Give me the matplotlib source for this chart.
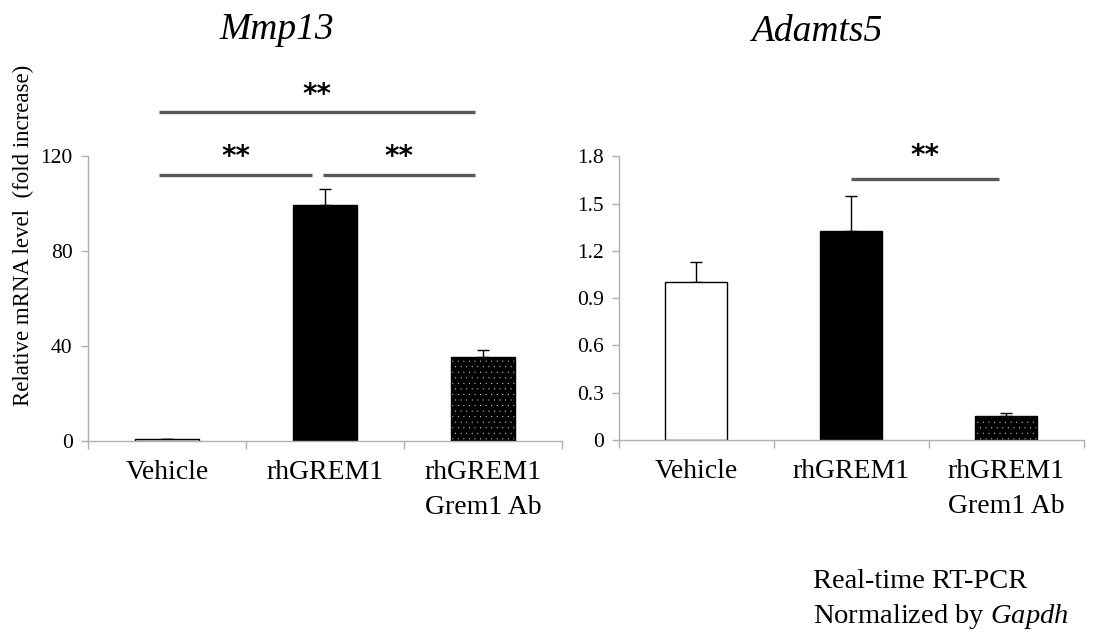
import numpy as np
import matplotlib
matplotlib.use('Agg')
import matplotlib.pyplot as plt

plt.rcParams['font.family'] = ['Liberation Serif', 'DejaVu Serif']
plt.rcParams['mathtext.fontset'] = 'custom'
plt.rcParams['mathtext.rm'] = 'Liberation Serif'
plt.rcParams['mathtext.it'] = 'Liberation Serif:italic'
plt.rcParams['hatch.linewidth'] = 0.0

# Data
groups = ['Vehicle', 'rhGREM1', 'rhGREM1\nGrem1 Ab']
mmp13_mean = [1.0, 99.5, 35.5]
mmp13_err = [0.0, 6.5, 2.8]
adamts5_mean = [1.0, 1.325, 0.152]
adamts5_err = [0.13, 0.22, 0.018]

# significance: (from, to, height, star height)
mmp13_sig = [(-0.05, 1.95, 138.5, 140), (-0.05, 0.92, 112, 113.6), (0.99, 1.95, 112, 113.6)]
adamts5_sig = [(1.0, 1.95, 1.655, 1.715)]

axis_gray = '#b0b0b0'
sig_gray = '#595959'

fig = plt.figure(figsize=(11, 6.35), dpi=100)
ax1 = fig.add_axes([0.080, 0.3055, 0.431, 0.4488])
ax2 = fig.add_axes([0.5627, 0.307, 0.4227, 0.447])


def draw_panel(ax, means, errs, ylim, yticks, ytl, sig):
    x = np.arange(len(means))
    w = 0.4
    ax.bar(x[0], means[0], w, color='white', edgecolor='black', linewidth=1.0, zorder=2)
    ax.bar(x[1], means[1], w, color='black', edgecolor='black', linewidth=1.0, zorder=2)
    # dotted bar: black with white dots
    ax.bar(x[2], means[2], w, color='black', edgecolor='white', hatch='...', linewidth=0, zorder=2)
    ax.bar(x[2], means[2], w, color='none', edgecolor='black', linewidth=1.0, zorder=3)
    ax.errorbar(x, means, yerr=[np.zeros(len(errs)), errs], fmt='none',
                ecolor='black', elinewidth=1.0, capsize=4, capthick=1.0, zorder=1)
    ax.set_xlim(-0.5, 2.5)
    ax.set_ylim(*ylim)
    ax.set_yticks(yticks)
    ax.set_yticklabels(ytl, fontsize=15.5)
    ax.set_xticks(x)
    ax.set_xticklabels(groups, fontsize=20, linespacing=1.5)
    ax.tick_params(axis='x', length=0, pad=14)
    ax.set_xticks([-0.5, 0.5, 1.5, 2.5], minor=True)
    ax.tick_params(axis='x', which='minor', length=6, color=axis_gray, width=1.0)
    ax.tick_params(axis='y', length=5, color=axis_gray, width=1.0, pad=6)
    for s in ['top', 'right']:
        ax.spines[s].set_visible(False)
    for s in ['left', 'bottom']:
        ax.spines[s].set_color(axis_gray)
        ax.spines[s].set_linewidth(1.0)
    for x0, x1, h, hs in sig:
        ax.plot([x0, x1], [h, h], color=sig_gray, linewidth=2.4, clip_on=False,
                solid_capstyle='butt')
        ax.text((x0 + x1) / 2, hs, '**', ha='center', va='bottom', fontsize=20,
                fontweight='bold', family='DejaVu Sans')


draw_panel(ax1, mmp13_mean, mmp13_err, (0, 120), [0, 40, 80, 120],
           ['0', '40', '80', '120'], mmp13_sig)
draw_panel(ax2, adamts5_mean, adamts5_err, (0, 1.8), [0, 0.3, 0.6, 0.9, 1.2, 1.5, 1.8],
           ['0', '0.3', '0.6', '0.9', '1.2', '1.5', '1.8'], adamts5_sig)

fig.text(277 / 1100, 0.938, 'Mmp13', ha='center', va='baseline', fontsize=27, style='italic')
fig.text(817 / 1100, 0.935, 'Adamts5', ha='center', va='baseline', fontsize=27, style='italic')

fig.text(0.021, 0.63, 'Relative mRNA level  (fold increase)', rotation=90,
         ha='center', va='center', fontsize=16.5)
fig.text(813 / 1100, 0.074, 'Real-time RT-PCR', ha='left', va='baseline', fontsize=20.5)
fig.text(813 / 1100, 0.019, 'Normalized by $\\mathit{Gapdh}$', ha='left', va='baseline',
         fontsize=20.5)

fig.savefig('out.png', dpi=100)
